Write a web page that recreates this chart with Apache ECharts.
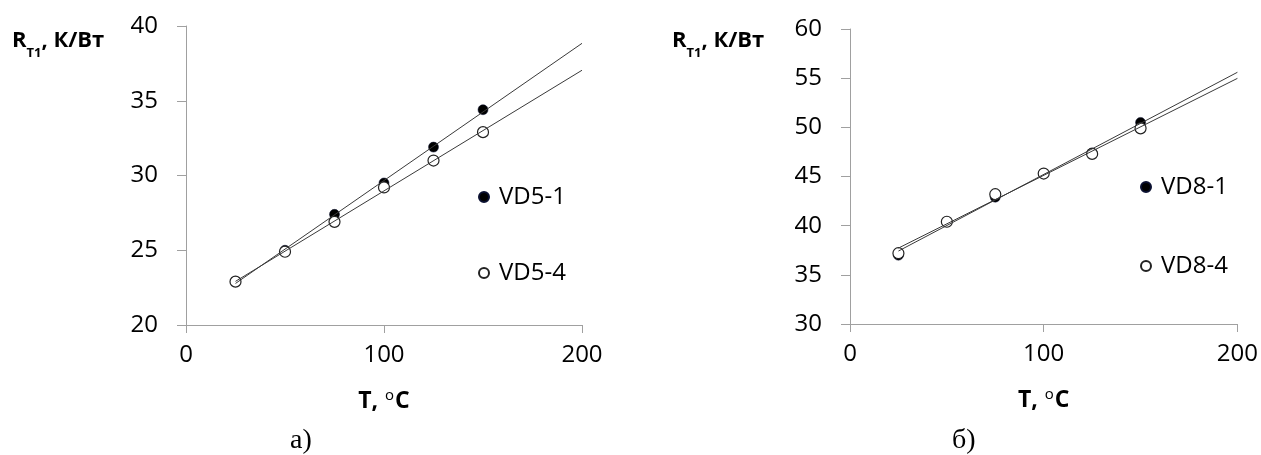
<!DOCTYPE html>
<html>
<head>
<meta charset="utf-8">
<script src="https://cdn.jsdelivr.net/npm/echarts@6/dist/echarts.min.js"></script>
<style>
  html, body { margin: 0; padding: 0; background: #fff; }
  #chart { width: 1261px; height: 455px; }
</style>
</head>
<body>
<div id="chart"></div>
<script>
// ---- data ----
var xTicks = [0, 100, 200];
var temps = [25, 50, 75, 100, 125, 150];
var vd5_1 = [22.9, 25.0, 27.4, 29.5, 31.9, 34.4];
var vd5_4 = [22.9, 24.9, 26.9, 29.2, 31.0, 32.9];
var vd8_1 = [37.0, 40.4, 42.9, 45.3, 47.4, 50.5];
var vd8_4 = [37.2, 40.4, 43.2, 45.3, 47.3, 49.9];
// linear trend lines (endpoints)
var trendVD5_1 = [[25, 22.78], [200, 38.84]];
var trendVD5_4 = [[25, 22.92], [200, 37.04]];
var trendVD8_1 = [[25, 37.42], [200, 55.60]];
var trendVD8_4 = [[25, 37.72], [200, 54.98]];
var yTicksA = [20, 25, 30, 35, 40];
var yTicksB = [30, 35, 40, 45, 50, 55, 60];
var seriesNames = ['VD5-1', 'VD5-4', 'VD8-1', 'VD8-4'];

function pairs(xs, ys) { return xs.map(function (x, i) { return [x, ys[i]]; }); }

var chart = echarts.init(document.getElementById('chart'), null, { renderer: 'canvas' });

var FONT = 'Open Sans';
var axisGray = '#a0a0a0';

function xAxisCfg(gridIndex) {
  return {
    type: 'value', gridIndex: gridIndex,
    min: xTicks[0], max: xTicks[xTicks.length - 1], interval: 100,
    name: '{a|T, }{s|o}{a|C}',
    nameLocation: 'middle', nameGap: 63,
    nameTextStyle: {
      rich: {
        a: { fontFamily: FONT, fontWeight: 'bold', fontSize: 23, color: '#000', lineHeight: 26 },
        s: { fontFamily: FONT, fontWeight: 'normal', fontSize: 15, color: '#000', verticalAlign: 'top', lineHeight: 26, padding: [0, 1, 10, 1] }
      }
    },
    axisLine: { show: true, onZero: false, lineStyle: { color: axisGray, width: 1 } },
    axisTick: { show: true, length: 8, lineStyle: { color: axisGray } },
    axisLabel: { margin: 18, fontFamily: FONT, fontSize: 24, color: '#000' },
    splitLine: { show: false }
  };
}
function yAxisCfg(gridIndex, ticks) {
  return {
    type: 'value', gridIndex: gridIndex,
    min: ticks[0], max: ticks[ticks.length - 1], interval: 5,
    axisLine: { show: true, onZero: false, lineStyle: { color: axisGray, width: 1 } },
    axisTick: { show: true, length: 9, lineStyle: { color: axisGray } },
    axisLabel: { margin: 28, fontFamily: FONT, fontSize: 24, color: '#000' },
    splitLine: { show: false }
  };
}

function filledScatter(name, xi, yi, data) {
  return {
    name: name, type: 'scatter', xAxisIndex: xi, yAxisIndex: yi,
    data: data, symbol: 'circle', symbolSize: 10, z: 2,
    itemStyle: { color: '#000', borderColor: '#0a1030', borderWidth: 0.5, opacity: 1 }
  };
}
function openScatter(name, xi, yi, data) {
  return {
    name: name, type: 'scatter', xAxisIndex: xi, yAxisIndex: yi,
    data: data, symbol: 'circle', symbolSize: 11, z: 3,
    itemStyle: { color: '#fff', borderColor: '#222', borderWidth: 1.2, opacity: 1 }
  };
}
function trend(name, xi, yi, data) {
  return {
    name: name, type: 'line', xAxisIndex: xi, yAxisIndex: yi,
    data: data, showSymbol: false, symbol: 'none', z: 4,
    lineStyle: { color: '#3a3a3a', width: 1 }, silent: true
  };
}
function legendCfg(name, left, top) {
  return {
    data: [name], left: left, top: top, orient: 'vertical', padding: 0,
    icon: 'circle', itemWidth: 20, itemHeight: 10,
    textStyle: { fontFamily: FONT, fontSize: 24, color: '#000' },
    selectedMode: false
  };
}

var titleRich = {
  b: { fontFamily: FONT, fontWeight: 'bold', fontSize: 22, color: '#000', lineHeight: 26 },
  sub: { fontFamily: FONT, fontWeight: 'bold', fontSize: 13, color: '#000', verticalAlign: 'bottom', lineHeight: 26, padding: [0, 0, -6, 0] }
};
var capRich = { c: { fontFamily: 'Liberation Serif', fontWeight: 'normal', fontSize: 28, color: '#000' } };

var option = {
  animation: false,
  backgroundColor: '#fff',
  title: [
    { text: '{b|R}{sub|T1}{b|, К/Вт}', left: 12, top: 28, padding: 0, textStyle: { rich: titleRich } },
    { text: '{b|R}{sub|T1}{b|, К/Вт}', left: 672, top: 28, padding: 0, textStyle: { rich: titleRich } },
    { text: '{c|а)}', left: 290, top: 427, padding: 0, textStyle: { fontWeight: 'normal', rich: capRich } },
    { text: '{c|б)}', left: 952, top: 427, padding: 0, textStyle: { fontWeight: 'normal', rich: capRich } }
  ],
  grid: [
    { left: 186, top: 26, width: 396, height: 299, containLabel: false },
    { left: 850, top: 29, width: 388, height: 295, containLabel: false }
  ],
  xAxis: [xAxisCfg(0), xAxisCfg(1)],
  yAxis: [yAxisCfg(0, yTicksA), yAxisCfg(1, yTicksB)],
  legend: [
    legendCfg(seriesNames[0], 478, 185),
    legendCfg(seriesNames[1], 478, 261),
    legendCfg(seriesNames[2], 1140, 175),
    legendCfg(seriesNames[3], 1140, 254)
  ],
  series: [
    filledScatter(seriesNames[0], 0, 0, pairs(temps, vd5_1)),
    openScatter(seriesNames[1], 0, 0, pairs(temps, vd5_4)),
    trend('trend ' + seriesNames[0], 0, 0, trendVD5_1),
    trend('trend ' + seriesNames[1], 0, 0, trendVD5_4),
    filledScatter(seriesNames[2], 1, 1, pairs(temps, vd8_1)),
    openScatter(seriesNames[3], 1, 1, pairs(temps, vd8_4)),
    trend('trend ' + seriesNames[2], 1, 1, trendVD8_1),
    trend('trend ' + seriesNames[3], 1, 1, trendVD8_4)
  ]
};
chart.setOption(option);
</script>
</body>
</html>
